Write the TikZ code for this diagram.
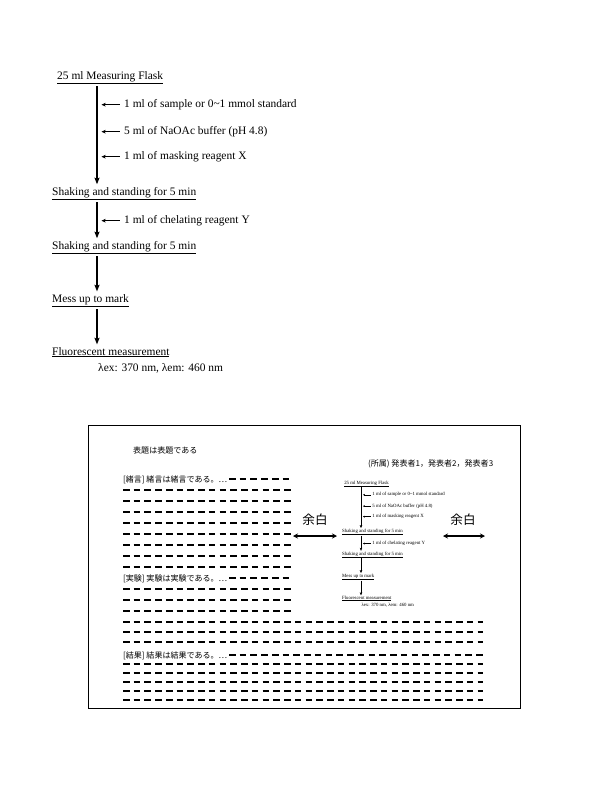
\documentclass[tikz,border=0pt]{standalone}
\usepackage{fontspec}
\setmainfont{Liberation Serif}
\newfontfamily\jfont{Noto Sans CJK JP}
\usetikzlibrary{arrows.meta}

\begin{document}
\begin{tikzpicture}[x=0.035cm,y=-0.035cm,
  stage/.style={anchor=base west,inner xsep=0pt,inner ysep=2.5pt,font=\fontsize{11.4}{13}\selectfont},
  addition/.style={stage,inner ysep=0pt},
  flowline/.style={-{Stealth[length=6.5pt,width=5pt,inset=1pt]},line width=1.3pt},
  sideline/.style={-{Stealth[length=4pt,width=3.6pt,inset=0.8pt]},line width=0.8pt},
  jtext/.style={anchor=base west,inner sep=0pt,font=\jfont\fontsize{8}{9}\selectfont},
  fillrow/.style={line width=1.5pt,dash pattern=on 6.5pt off 4.2pt},
  margin/.style={{Stealth[length=5pt,width=5pt]}-{Stealth[length=5pt,width=5pt]},line width=1.5pt},
  assay/.pic={
    \coordinate (axis) at (0,0);
    \coordinate (tip) at (4.5,0);
    \node[stage] (flask) at (-40,0) {\underline{25 ml Measuring Flask}};
    \node[addition] (sample) at (27,28) {1 ml of sample or 0\textasciitilde1 mmol standard};
    \node[addition] (buffer) at (27,55) {5 ml of NaOAc buffer (pH 4.8)};
    \node[addition] (masking) at (27,80) {1 ml of masking reagent X};
    \node[stage] (shakeA) at (-45,116) {\underline{Shaking and standing for 5 min}};
    \node[addition] (chelate) at (27,144) {1 ml of chelating reagent Y};
    \node[stage] (shakeB) at (-45,170) {\underline{Shaking and standing for 5 min}};
    \node[stage] (mess) at (-45,223) {\underline{Mess up to mark}};
    \node[stage] (fluor) at (-45,276) {\underline{Fluorescent measurement}};
    \node[addition] (lambda) at (1,292) {λex: 370 nm, λem: 460 nm};
    \draw[flowline] (flask.south -| axis) -- (shakeA.north -| axis);
    \draw[flowline] (shakeA.south -| axis) -- (shakeB.north -| axis);
    \draw[flowline] (shakeB.south -| axis) -- (mess.north -| axis);
    \draw[flowline] (mess.south -| axis) -- (fluor.north -| axis);
    \foreach \n in {sample,buffer,masking,chelate}
      \draw[sideline] ([xshift=-4pt]\n.mid west) -- (\n.mid west -| tip);
  }]
\useasboundingbox (0,0) rectangle (600,805);

% procedure, full size
\pic (big) at (97,79) {assay};

% poster layout
\draw[line width=0.8pt] (88,425) rectangle (520,708);
\node[jtext] (title) at (133,453) {表題は表題である};
\node[jtext] (authors) at (368,466) {(所属) 発表者1，発表者2，発表者3};
\node[jtext] (intro) at (123,482) {[緒言] 緒言は緒言である。…};
\node[jtext] (method) at (123,581) {[実験] 実験は実験である。…};
\node[jtext] (result) at (123,658) {[結果] 結果は結果である。…};
\draw[fillrow] (229,479) -- (293,479);
\foreach \y in {490,501,...,567}
  \draw[fillrow] (123,\y) -- (293,\y);
\draw[fillrow] (229,578) -- (293,578);
\foreach \y in {589,600,611}
  \draw[fillrow] (123,\y) -- (293,\y);
\foreach \y in {622,632,642}
  \draw[fillrow] (123,\y) -- (483,\y);
\draw[fillrow] (229,655) -- (483,655);
\foreach \y in {664,673,...,700}
  \draw[fillrow] (123,\y) -- (483,\y);

% procedure, poster size
\pic[scale=0.42,transform shape,
  flowline/.style={-{Stealth[length=3pt,width=2.4pt,inset=0.5pt]},line width=0.7pt},
  sideline/.style={-{Stealth[length=2pt,width=1.8pt,inset=0.4pt]},line width=0.45pt}]
  (small) at (361,484) {assay};

% margins
\node[font=\jfont\fontsize{12.5}{14}\selectfont] (gapL) at (315,520) {余白};
\node[font=\jfont\fontsize{12.5}{14}\selectfont] (gapR) at (463,520) {余白};
\coordinate (gapLa) at (293,536);
\coordinate (gapLb) at (337,536);
\coordinate (gapRa) at (443,536);
\coordinate (gapRb) at (485,536);
\draw[margin] (gapLa) -- (gapLb);
\draw[margin] (gapRa) -- (gapRb);
\end{tikzpicture}
\end{document}
